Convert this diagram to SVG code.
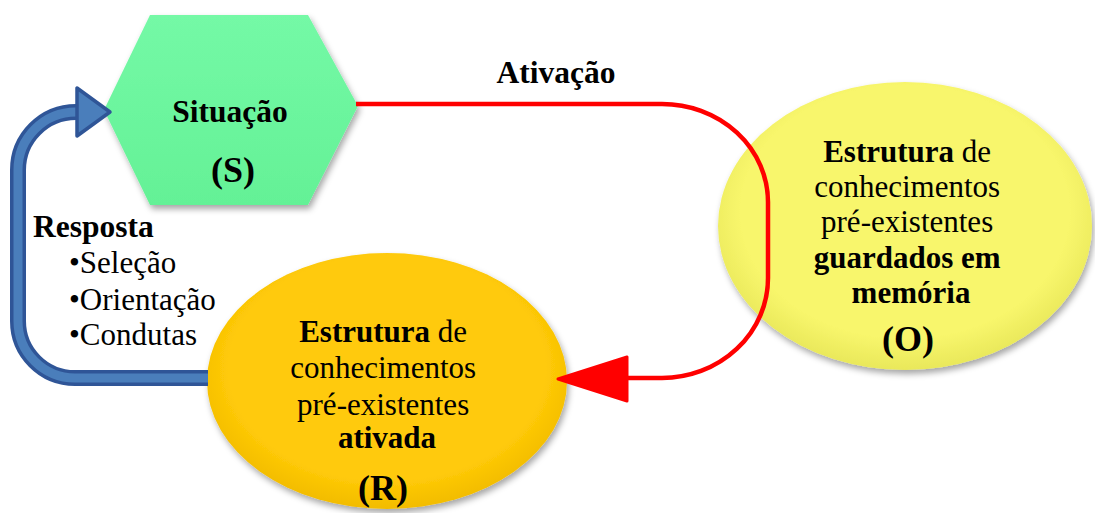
<svg xmlns="http://www.w3.org/2000/svg" width="1095" height="513" viewBox="0 0 1095 513">
<style>
text{font-family:"Liberation Serif","Times New Roman","DejaVu Serif",serif;fill:#000}
.b{font-weight:bold}
.t30{font-size:31px}
.tb{font-size:31.5px;font-weight:bold}
.t36{font-size:36px;font-weight:bold}
</style>
<defs>
<filter id="sh" x="-10%" y="-10%" width="125%" height="130%">
<feDropShadow dx="2" dy="4" stdDeviation="3" flood-color="#000" flood-opacity="0.35"/>
</filter>
<radialGradient id="gO" cx="50%" cy="45%" r="55%">
<stop offset="0.8" stop-color="#F8F66C"/>
<stop offset="1" stop-color="#E9E85A"/>
</radialGradient>
<radialGradient id="gR" cx="50%" cy="45%" r="55%">
<stop offset="0.8" stop-color="#FFCA08"/>
<stop offset="1" stop-color="#F2BC00"/>
</radialGradient>
<linearGradient id="gS" x1="0" y1="0" x2="0" y2="1">
<stop offset="0" stop-color="#74F9A6"/>
<stop offset="1" stop-color="#64F196"/>
</linearGradient>
</defs>

<g id="node-S">
<polygon points="150,15 308,15 358,106 308,205 150,205 104,110" fill="url(#gS)" filter="url(#sh)"/>
<text class="tb" x="230" y="122" text-anchor="middle" font-family="Liberation Serif, serif">Situação</text>
<text class="t36" x="233" y="182" text-anchor="middle" font-family="Liberation Serif, serif">(S)</text>
</g>

<g id="node-O">
<ellipse cx="905" cy="226" rx="187" ry="144" fill="url(#gO)" filter="url(#sh)"/>
<text class="t30" x="911" text-anchor="middle" font-family="Liberation Serif, serif">
<tspan x="911" y="162"><tspan class="b">Estrutura</tspan> de</tspan>
<tspan x="911" y="197">conhecimentos</tspan>
<tspan x="911" y="232">pré-existentes</tspan>
<tspan x="911" y="268" class="b">guardados em</tspan>
<tspan x="911" y="303" class="b">memória</tspan>
</text>
<text class="t36" x="908" y="351" text-anchor="middle" font-family="Liberation Serif, serif">(O)</text>
</g>

<g id="node-R">
<ellipse cx="387" cy="381" rx="180" ry="128" fill="url(#gR)" filter="url(#sh)"/>
<text class="t30" x="387" text-anchor="middle" font-family="Liberation Serif, serif">
<tspan x="387" y="342"><tspan class="b">Estrutura</tspan> de</tspan>
<tspan x="387" y="378">conhecimentos</tspan>
<tspan x="387" y="415">pré-existentes</tspan>
<tspan x="387" y="448" class="b">ativada</tspan>
</text>
<text class="t36" x="383" y="500" text-anchor="middle" font-family="Liberation Serif, serif">(R)</text>
</g>

<g id="connectors">
<path id="ativacao" d="M356,104 H662 A106,98 0 0 1 768,202 V278 A106,100 0 0 1 662,378 H622" fill="none" stroke="#FF0000" stroke-width="4.5"/>
<polygon points="627,357 627,401 558,379" fill="#FF0000" stroke="#FF0000" stroke-width="3" stroke-linejoin="round"/>
<g id="resposta">
<path d="M208,378 H75 A57,57 0 0 1 18,321 V170 A58,58 0 0 1 76,112 H80" fill="none" stroke="#2F5597" stroke-width="16"/>
<path d="M208,378 H75 A57,57 0 0 1 18,321 V170 A58,58 0 0 1 76,112 H82" fill="none" stroke="#4A7EBB" stroke-width="9"/>
<polygon points="77,88 77,136 110,112" fill="#4A7EBB" stroke="#2F5597" stroke-width="3.5" stroke-linejoin="round"/>
</g>
</g>

<g id="label-ativacao">
<text class="tb" x="556" y="83" text-anchor="middle" font-family="Liberation Serif, serif">Ativação</text>
</g>

<g id="label-resposta" font-family="Liberation Serif, serif">
<text class="tb" x="33" y="237">Resposta</text>
<text class="t30" x="69" y="273">•Seleção</text>
<text class="t30" x="69" y="310">•Orientação</text>
<text class="t30" x="69" y="345">•Condutas</text>
</g>
</svg>
